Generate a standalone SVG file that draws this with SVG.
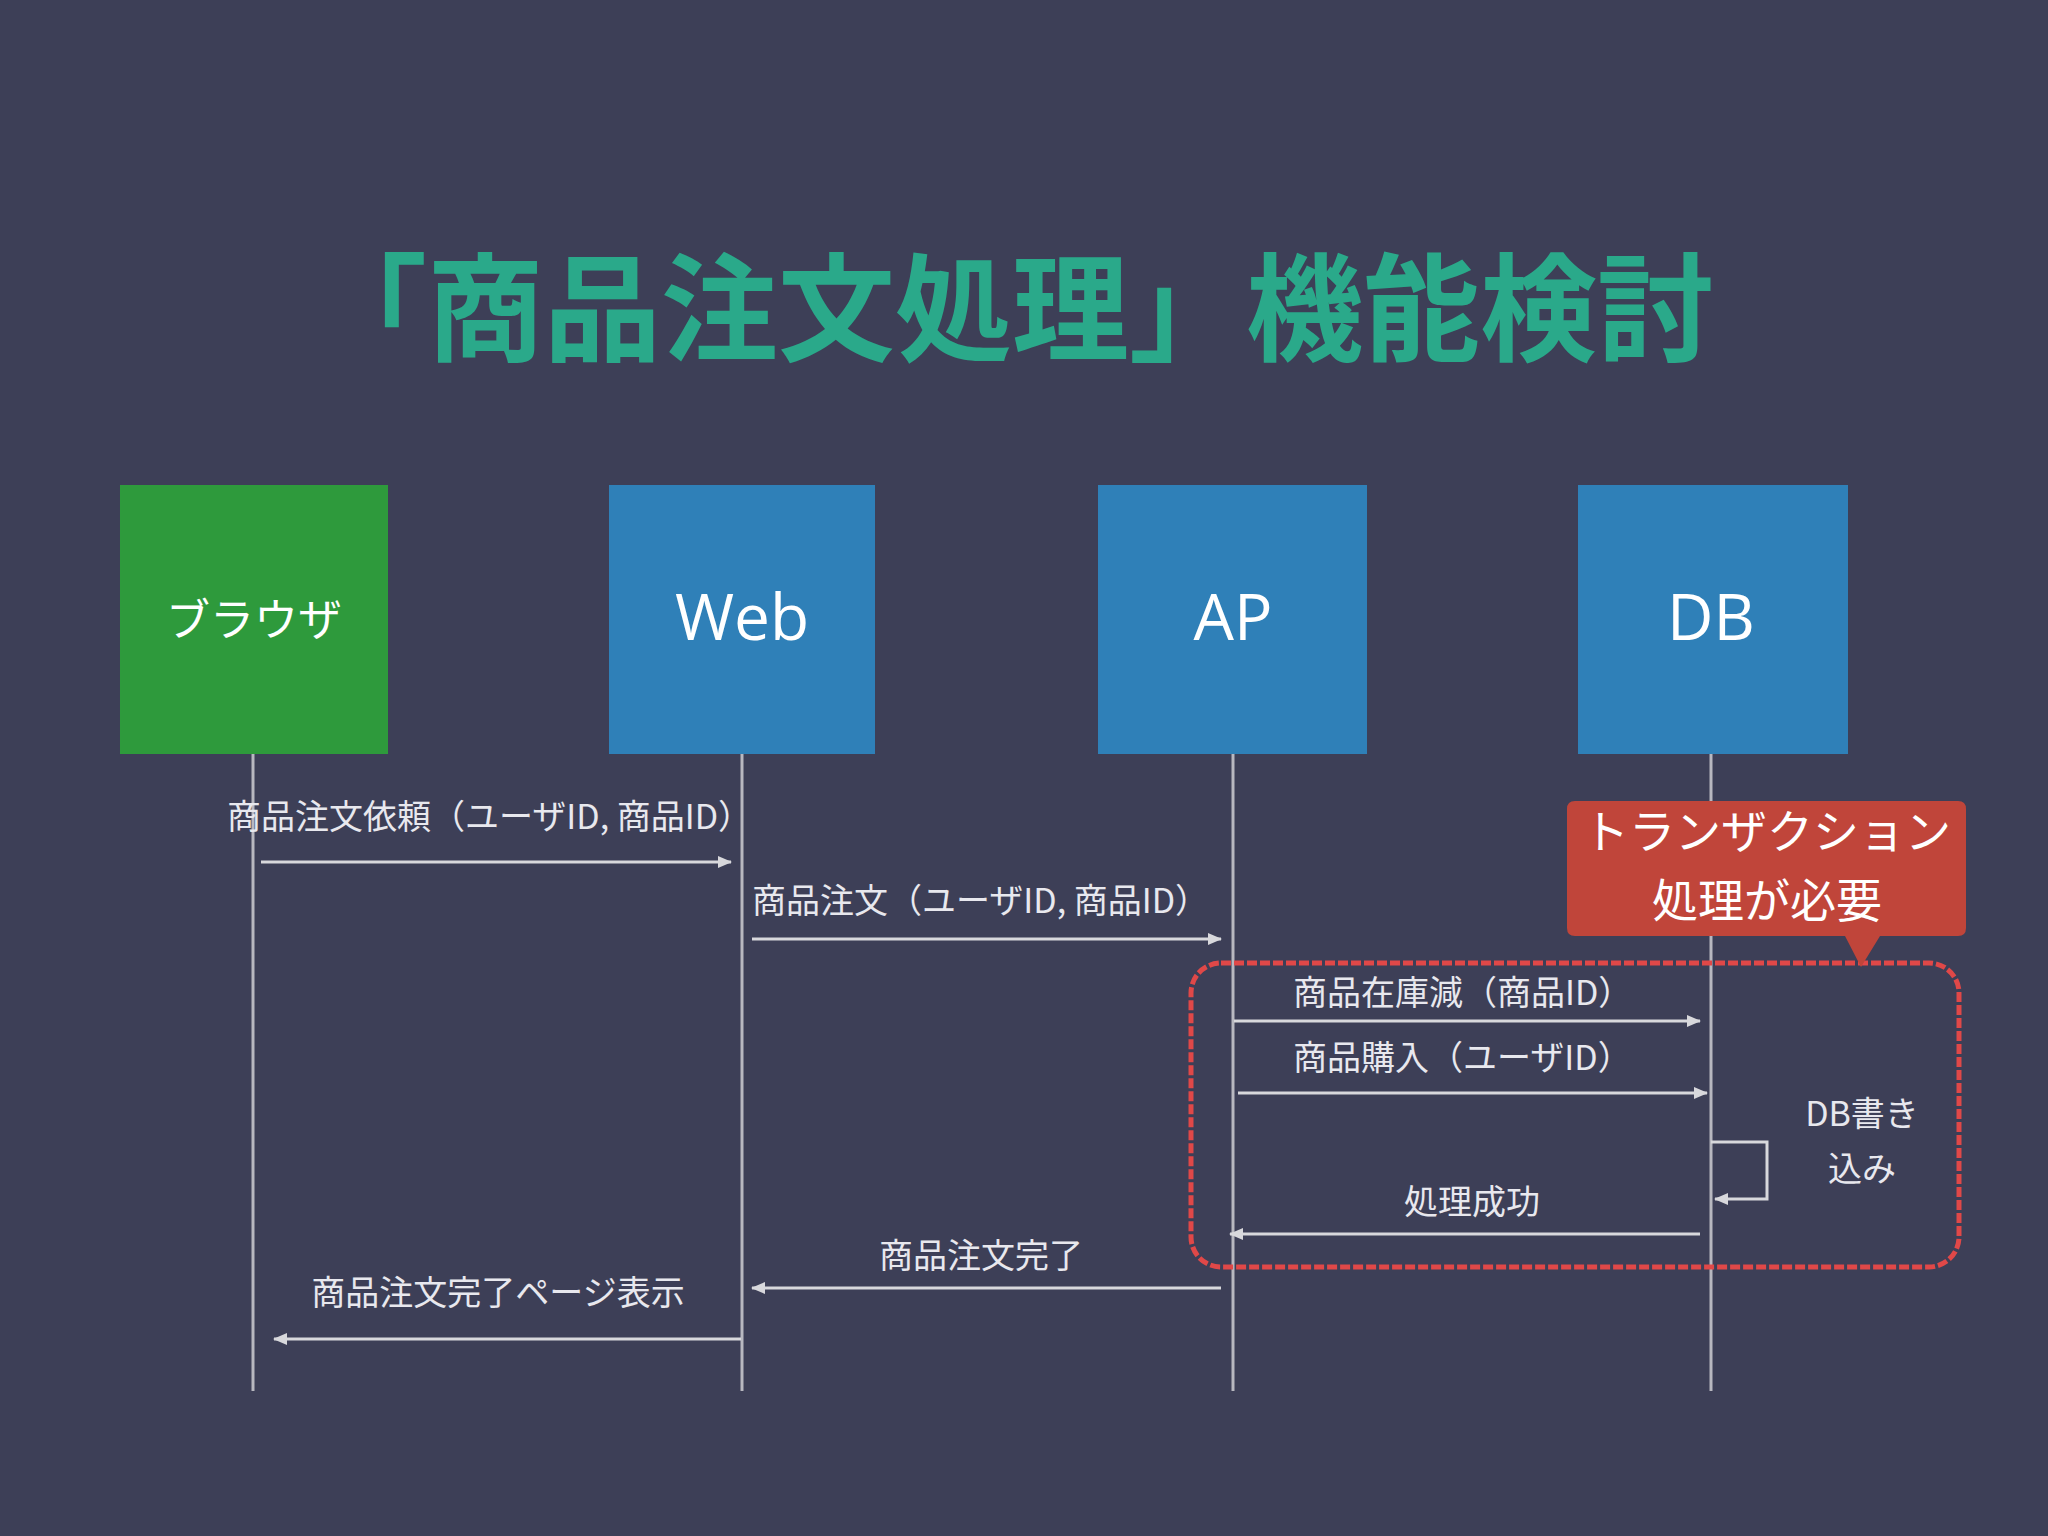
<svg xmlns="http://www.w3.org/2000/svg" width="2048" height="1536" viewBox="0 0 2048 1536">
<style>
text{font-family:"Noto Sans CJK JP","Noto Sans",sans-serif;}
.lbl{fill:#e8e8ee;font-size:34px;}
.node{font-size:64px;fill:#fff;text-anchor:middle;font-family:"Open Sans","Noto Sans CJK JP",sans-serif;}
.life{stroke:#b8b8c0;stroke-width:3;fill:none;}
.msg{stroke:#d8d8dc;stroke-width:3;fill:none;marker-end:url(#ah);}
</style>
<defs>
<marker id="ah" markerWidth="14" markerHeight="12" refX="13" refY="6" orient="auto" markerUnits="userSpaceOnUse">
<path d="M0,0 L14,6 L0,12 z" fill="#d8d8dc"/>
</marker>
</defs>
<rect width="2048" height="1536" fill="#3d3f57"/>
<text x="1012" y="352" text-anchor="middle" font-size="117" font-weight="bold" fill="#2aa98a">「商品注文処理」機能検討</text>
<g id="browser"><rect x="120" y="485" width="268" height="269" fill="#2e9a3c"/><text class="node" x="254" y="636" style="font-size:44px">ブラウザ</text></g>
<g id="web"><rect x="609" y="485" width="266" height="269" fill="#2f80b8"/><text class="node" x="742" y="640">Web</text></g>
<g id="ap"><rect x="1098" y="485" width="269" height="269" fill="#2f80b8"/><text class="node" x="1233" y="640">AP</text></g>
<g id="db"><rect x="1578" y="485" width="270" height="269" fill="#2f80b8"/><text class="node" x="1711" y="640">DB</text></g>
<g id="connectors">
<line class="life" x1="253" y1="754" x2="253" y2="1391"/>
<line class="life" x1="742" y1="754" x2="742" y2="1391"/>
<line class="life" x1="1233" y1="754" x2="1233" y2="1391"/>
<line class="life" x1="1711" y1="754" x2="1711" y2="1391"/>
<line class="msg" x1="261" y1="862" x2="731" y2="862"/>
<line class="msg" x1="752" y1="939" x2="1221" y2="939"/>
<line class="msg" x1="1234" y1="1021" x2="1700" y2="1021"/>
<line class="msg" x1="1238" y1="1093" x2="1707" y2="1093"/>
<polyline class="msg" points="1711,1142 1767,1142 1767,1199 1715,1199"/>
<line class="msg" x1="1700" y1="1234" x2="1230" y2="1234"/>
<line class="msg" x1="1221" y1="1288" x2="752" y2="1288"/>
<line class="msg" x1="741" y1="1339" x2="274" y2="1339"/>
</g>
<g id="labels">
<text class="lbl" x="227" y="829">商品注文依頼（ユーザID, 商品ID）</text>
<text class="lbl" x="752" y="913">商品注文（ユーザID, 商品ID）</text>
<text class="lbl" x="1293" y="1005">商品在庫減（商品ID）</text>
<text class="lbl" x="1293" y="1070">商品購入（ユーザID）</text>
<text class="lbl" x="1862" y="1126" text-anchor="middle">DB書き</text>
<text class="lbl" x="1862" y="1181" text-anchor="middle">込み</text>
<text class="lbl" x="1472" y="1214" text-anchor="middle">処理成功</text>
<text class="lbl" x="981" y="1268" text-anchor="middle">商品注文完了</text>
<text class="lbl" x="498" y="1305" text-anchor="middle">商品注文完了ページ表示</text>
</g>
<g id="transaction">
<rect x="1191" y="963" width="768" height="304" rx="30" fill="none" stroke="#e04848" stroke-width="5" stroke-dasharray="10 3"/>
</g>
<g id="callout">
<path d="M1575,801 H1958 Q1966,801 1966,809 V928 Q1966,936 1958,936 H1880 L1861,967 L1845,936 H1575 Q1567,936 1567,928 V809 Q1567,801 1575,801 Z" fill="#c0453a"/>
<text x="1767" y="848" text-anchor="middle" font-size="46" fill="#fff">トランザクション</text>
<text x="1767" y="917" text-anchor="middle" font-size="46" fill="#fff">処理が必要</text>
</g>
</svg>
